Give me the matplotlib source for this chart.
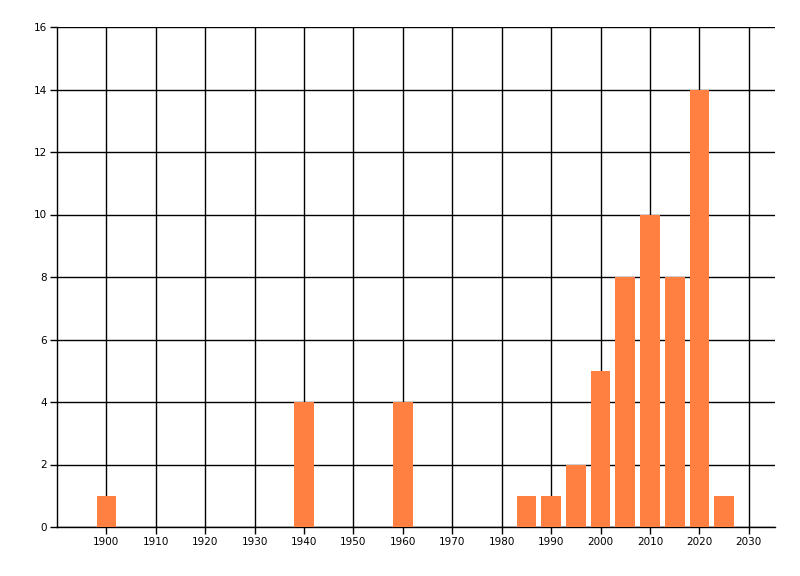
import matplotlib.pyplot as plt

years = [1900, 1940, 1960, 1985, 1990, 1995, 2000, 2005, 2010, 2015, 2020, 2025]
counts = [1, 4, 4, 1, 1, 2, 5, 8, 10, 8, 14, 1]
x_ticks = list(range(1900, 2031, 10))
y_ticks = list(range(0, 17, 2))

fig = plt.figure(figsize=(8, 5.76), dpi=100)
ax = fig.add_axes([57 / 800, 49 / 576, 718 / 800, 500 / 576])

ax.bar(years, counts, width=4, color='#FF8040', zorder=3)

ax.set_xlim(1890, 2035.3)
ax.set_ylim(0, 16)
ax.set_xticks(x_ticks)
ax.set_yticks(y_ticks)
ax.grid(True, color='black', linewidth=1, zorder=0)
ax.set_axisbelow(True)

for side in ['top', 'right']:
    ax.spines[side].set_visible(False)
for side in ['left', 'bottom']:
    ax.spines[side].set_linewidth(1)
    ax.spines[side].set_color('black')

ax.tick_params(axis='both', labelsize=7.5, length=5, width=1, color='black', pad=2)

fig.savefig('out.png', dpi=100)
plt.close(fig)
